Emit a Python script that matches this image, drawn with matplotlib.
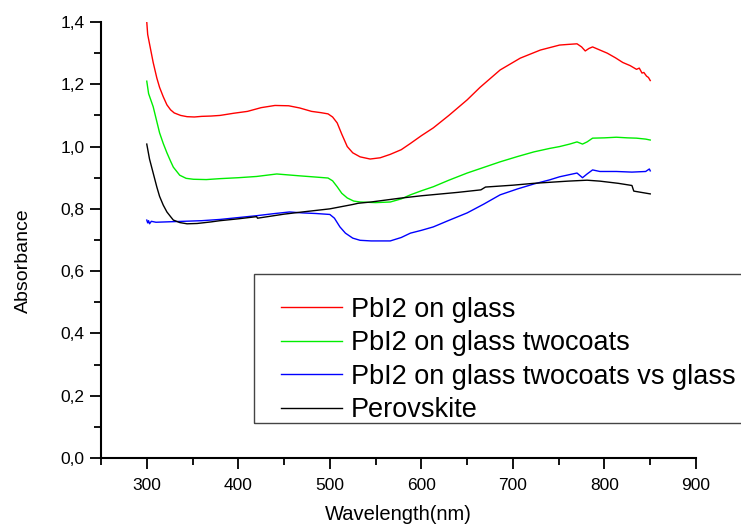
import matplotlib
matplotlib.use("Agg")
import matplotlib.pyplot as plt
from matplotlib.patches import Rectangle
from matplotlib.ticker import MultipleLocator, FuncFormatter

plt.rcParams['font.family'] = ['Liberation Sans', 'DejaVu Sans']

# PbI2 on glass
red_wl = [300, 301, 303, 307, 311, 314, 318, 322, 326, 330, 337, 344, 352, 360, 370,
          380, 395, 410, 425, 440, 455, 467, 480, 490, 498, 503, 508, 513, 519, 525,
          533, 544, 555, 566, 578, 588, 600, 613, 630, 650, 664, 686, 708, 730, 751,
          760, 770, 775, 779, 783, 787, 795, 803, 812, 820, 828, 835, 838, 841, 843,
          846, 848, 850]
red_abs = [1.40, 1.36, 1.33, 1.27, 1.22, 1.19, 1.16, 1.134, 1.118, 1.108, 1.100, 1.096,
           1.095, 1.097, 1.098, 1.100, 1.107, 1.113, 1.125, 1.132, 1.131, 1.124, 1.113,
           1.109, 1.105, 1.095, 1.076, 1.04, 1.00, 0.98, 0.967, 0.960, 0.964, 0.975,
           0.99, 1.01, 1.035, 1.06, 1.10, 1.15, 1.19, 1.246, 1.284, 1.31, 1.326, 1.328,
           1.33, 1.32, 1.307, 1.315, 1.32, 1.31, 1.30, 1.285, 1.27, 1.26, 1.248, 1.252,
           1.236, 1.238, 1.226, 1.222, 1.212]

# PbI2 on glass, two coats
green_wl = [300, 302, 307, 311, 314, 318, 322, 326, 329, 336, 343, 351, 365, 380, 400,
            420, 442, 467, 485, 498, 503, 508, 513, 519, 526, 533, 550, 566, 578, 588,
            600, 613, 630, 650, 668, 686, 705, 723, 740, 751, 762, 770, 776, 781, 787,
            800, 813, 825, 835, 845, 850]
green_abs = [1.21, 1.17, 1.128, 1.08, 1.044, 1.01, 0.98, 0.953, 0.934, 0.908, 0.898,
             0.895, 0.894, 0.897, 0.900, 0.904, 0.912, 0.906, 0.902, 0.899, 0.89, 0.871,
             0.85, 0.835, 0.825, 0.822, 0.820, 0.822, 0.832, 0.845, 0.858, 0.871, 0.892,
             0.915, 0.933, 0.951, 0.968, 0.983, 0.994, 1.0, 1.008, 1.015, 1.008, 1.015,
             1.027, 1.028, 1.03, 1.028, 1.027, 1.024, 1.021]

# PbI2 on glass, two coats, glass reference
blue_wl = [300, 301, 302, 303, 305, 310, 320, 340, 360, 380, 400, 420, 440, 456, 470,
           485, 500, 505, 511, 517, 525, 533, 545, 566, 578, 588, 600, 613, 630, 650,
           668, 686, 705, 723, 740, 751, 762, 770, 776, 781, 787, 795, 813, 830, 845,
           849, 850]
blue_abs = [0.764, 0.755, 0.762, 0.752, 0.760, 0.757, 0.758, 0.760, 0.762, 0.766, 0.772,
            0.778, 0.785, 0.790, 0.787, 0.785, 0.782, 0.770, 0.742, 0.722, 0.706, 0.699,
            0.697, 0.697, 0.708, 0.722, 0.731, 0.742, 0.763, 0.787, 0.815, 0.845, 0.864,
            0.880, 0.893, 0.903, 0.910, 0.915, 0.900, 0.912, 0.925, 0.920, 0.920, 0.918,
            0.920, 0.928, 0.922]

# Perovskite
black_wl = [300, 303, 307, 311, 314, 318, 322, 326, 329, 336, 344, 355, 370, 380, 400,
            420, 421, 450, 470, 500, 525, 531, 545, 576, 600, 640, 665, 670, 700, 723,
            760, 781, 795, 815, 830, 832, 840, 850]
black_abs = [1.008, 0.96, 0.915, 0.87, 0.84, 0.812, 0.79, 0.775, 0.764, 0.756, 0.752,
             0.753, 0.758, 0.762, 0.768, 0.775, 0.770, 0.783, 0.790, 0.800, 0.814, 0.818,
             0.822, 0.834, 0.842, 0.853, 0.861, 0.870, 0.876, 0.882, 0.889, 0.892, 0.889,
             0.882, 0.875, 0.857, 0.853, 0.848]

labels = ["PbI2 on glass", "PbI2 on glass twocoats",
          "PbI2 on glass twocoats vs glass", "Perovskite"]
colors = ["#ff0000", "#00ee00", "#0000ff", "#000000"]

fig = plt.figure(figsize=(7.41, 5.24), dpi=100)
ax = fig.add_axes([0.1363, 0.126, 0.8030, 0.832])

series = [(red_wl, red_abs), (green_wl, green_abs), (blue_wl, blue_abs), (black_wl, black_abs)]
for (wl, ab), lab, col in zip(series, labels, colors):
    ax.plot(wl, ab, color=col, lw=1.0, label=lab)

ax.set_xlim(250, 900)
ax.set_ylim(0, 1.4)
ax.xaxis.set_major_locator(MultipleLocator(100))
ax.xaxis.set_minor_locator(MultipleLocator(50))
ax.yaxis.set_major_locator(MultipleLocator(0.2))
ax.yaxis.set_minor_locator(MultipleLocator(0.1))
ax.yaxis.set_major_formatter(FuncFormatter(lambda v, p: f"{v:.1f}".replace(".", ",")))
ax.xaxis.set_major_formatter(FuncFormatter(
    lambda v, p: "" if v < 300 else f"{v:.0f}"))

for side in ("top", "right"):
    ax.spines[side].set_visible(False)
for side in ("left", "bottom"):
    ax.spines[side].set_linewidth(1.5)

ax.tick_params(which="major", direction="out", length=8, width=1.3, labelsize=12.5)
ax.tick_params(which="minor", direction="out", length=5, width=1.3)
ax.tick_params(axis="x", which="major", pad=6.5)
ax.tick_params(axis="y", which="major", pad=4)

ax.set_xlabel("Wavelength(nm)", fontsize=14.5)
ax.set_ylabel("Absorbance", fontsize=14)
ax.xaxis.set_label_coords(0.5, -0.108)
ax.yaxis.set_label_coords(-0.116, 0.452)

leg = ax.legend(loc="upper left", bbox_to_anchor=(0.3025, 0.370), fontsize=19.5,
                frameon=False, handlelength=2.26, handletextpad=0.33,
                labelspacing=0.28, borderpad=0, borderaxespad=0)
for line in leg.get_lines():
    line.set_linewidth(1.0)

# legend box, open on the right where it runs past the figure edge
fig.patches.append(Rectangle((0.3428, 0.1927), 0.75, 0.2844, transform=fig.transFigure,
                             fill=False, edgecolor="#444444", linewidth=1.0, zorder=5))

fig.savefig("out.png", dpi=100)
